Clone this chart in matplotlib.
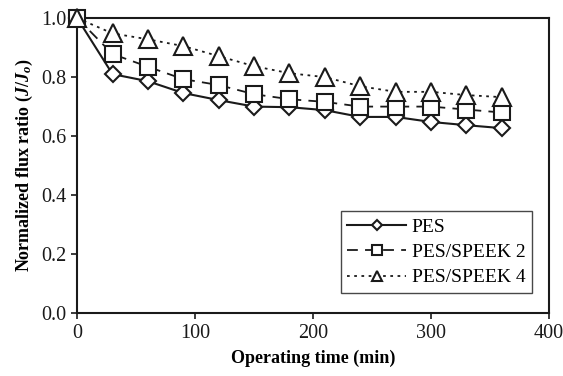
import matplotlib
matplotlib.use('Agg')
import matplotlib.pyplot as plt
from matplotlib.ticker import FormatStrFormatter

# Datos
time_min = [0, 30, 60, 90, 120, 150, 180, 210, 240, 270, 300, 330, 360]
pes = [1.0, 0.81, 0.786, 0.746, 0.722, 0.70, 0.698, 0.688, 0.665, 0.665, 0.648, 0.637, 0.627]
speek2 = [1.0, 0.878, 0.835, 0.793, 0.773, 0.742, 0.725, 0.716, 0.70, 0.70, 0.70, 0.69, 0.68]
speek4 = [1.0, 0.948, 0.928, 0.905, 0.871, 0.837, 0.813, 0.80, 0.769, 0.75, 0.75, 0.739, 0.732]
labels = ['PES', 'PES/SPEEK 2', 'PES/SPEEK 4']

plt.rcParams['font.family'] = ['Liberation Serif', 'DejaVu Serif']
plt.rcParams['mathtext.fontset'] = 'custom'
plt.rcParams['mathtext.it'] = 'Liberation Serif:bold:italic'
plt.rcParams['mathtext.rm'] = 'Liberation Serif:bold'

fig = plt.figure(figsize=(5.63, 3.76), dpi=100)
ax = fig.add_axes([0.137, 0.167, 0.838, 0.785])

c = '#1a1a1a'
ax.plot(time_min, pes, '-', color=c, lw=1.5, marker='D', ms=8.5,
        mfc='white', mec=c, mew=1.5, label=labels[0], clip_on=False, zorder=3)
ax.plot(time_min, speek2, color=c, lw=1.3, ls=(0, (6, 4)), marker='s', ms=11.5,
        mfc='white', mec=c, mew=1.5, label=labels[1], clip_on=False, zorder=3)
ax.plot(time_min, speek4, color=c, lw=1.3, ls=(0, (1.5, 2.5)), marker='^', ms=12.5,
        mfc='white', mec=c, mew=1.5, label=labels[2], clip_on=False, zorder=3)

ax.set_xlim(0, 400)
ax.set_ylim(0, 1.0)
ax.set_xticks([0, 100, 200, 300, 400])
ax.set_yticks([0.0, 0.2, 0.4, 0.6, 0.8, 1.0])
ax.yaxis.set_major_formatter(FormatStrFormatter('%.1f'))
ax.tick_params(direction='out', length=4, width=1.2, labelsize=14.5, colors=c)
for s in ax.spines.values():
    s.set_linewidth(1.5)
    s.set_color(c)

ax.set_xlabel('Operating time (min)', fontsize=13, fontweight='bold', labelpad=5)
ax.set_ylabel(r'Normalized flux ratio ($J/J_o$)', fontsize=13, fontweight='bold', labelpad=5)

leg = ax.legend(loc='lower right', bbox_to_anchor=(0.985, 0.035), fontsize=14,
                frameon=True, fancybox=False, edgecolor=c, handlelength=3.0,
                handletextpad=0.3, borderpad=0.35, labelspacing=0.4)
leg.get_frame().set_linewidth(1.0)
for h in leg.legend_handles:
    h.set_markersize(h.get_markersize() * 0.6)

fig.savefig('out.png', dpi=100)
